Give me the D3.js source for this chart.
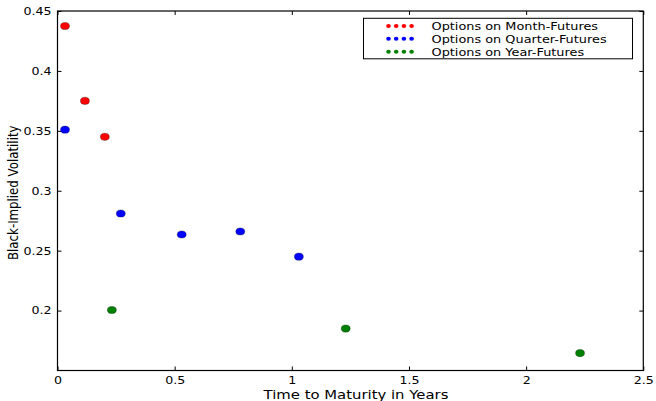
<!DOCTYPE html>
<html>
<head>
<meta charset="utf-8">
<script src="https://cdn.jsdelivr.net/npm/d3@7"></script>
<style>
  body { margin: 0; background: #fff; }
  text { font-family: "DejaVu Sans", sans-serif; }
</style>
</head>
<body>
<div id="chart"></div>
<script>
const width = 656;
const height = 401;
const margin = { top: 11, right: 12.7, bottom: 30.5, left: 57.5 };

// data
const monthT = [0.032, 0.117, 0.202];
const monthV = [0.4375, 0.375, 0.345];
const quarterT = [0.032, 0.27, 0.53, 0.78, 1.03];
const quarterV = [0.351, 0.281, 0.2635, 0.266, 0.245];
const yearT = [0.232, 1.23, 2.23];
const yearV = [0.2005, 0.185, 0.1645];

const xTicks = [0, 0.5, 1, 1.5, 2, 2.5];
const yTicks = [0.2, 0.25, 0.3, 0.35, 0.4, 0.45];

const seriesNames = ['Options on Month-Futures', 'Options on Quarter-Futures', 'Options on Year-Futures'];
const colors = ['#ff0000', '#0000ff', '#008000'];

const series = [
  monthT.map((t, i) => ({ t, v: monthV[i] })),
  quarterT.map((t, i) => ({ t, v: quarterV[i] })),
  yearT.map((t, i) => ({ t, v: yearV[i] }))
];

const x = d3.scaleLinear()
  .domain([0, 2.5])
  .range([margin.left, width - margin.right]);

const y = d3.scaleLinear()
  .domain([0.15, 0.45])
  .range([height - margin.bottom, margin.top]);

const svg = d3.select('#chart').append('svg')
  .attr('width', width)
  .attr('height', height);

const fmt = d => String(+d.toFixed(2));

// the reference is a bit wider than tall, so widen the glyphs
function stretch(sel, k) {
  sel.each(function() {
    const w = this.getComputedTextLength();
    d3.select(this)
      .attr('textLength', w * k)
      .attr('lengthAdjust', 'spacingAndGlyphs');
  });
}

// bottom axis, ticks pointing inward
svg.append('g')
  .attr('transform', `translate(0,${height - margin.bottom})`)
  .call(d3.axisBottom(x).tickValues(xTicks).tickSize(-4).tickPadding(6).tickFormat(fmt))
  .call(g => g.select('.domain').remove())
  .call(g => g.selectAll('text').attr('font-size', 10.5).attr('fill', '#000').call(stretch, 1.2));

// top axis (ticks only)
svg.append('g')
  .attr('transform', `translate(0,${margin.top})`)
  .call(d3.axisTop(x).tickValues(xTicks).tickSize(-4).tickFormat(''))
  .call(g => g.select('.domain').remove());

svg.append('g')
  .attr('transform', `translate(${margin.left},0)`)
  .call(d3.axisLeft(y).tickValues(yTicks).tickSize(-4).tickPadding(6).tickFormat(fmt))
  .call(g => g.select('.domain').remove())
  .call(g => g.selectAll('text').attr('font-size', 10.5).attr('fill', '#000').call(stretch, 1.2));

svg.append('g')
  .attr('transform', `translate(${width - margin.right},0)`)
  .call(d3.axisRight(y).tickValues(yTicks).tickSize(-4).tickFormat(''))
  .call(g => g.select('.domain').remove());

// frame
svg.append('rect')
  .attr('x', margin.left)
  .attr('y', margin.top)
  .attr('width', width - margin.left - margin.right)
  .attr('height', height - margin.top - margin.bottom)
  .attr('fill', 'none')
  .attr('stroke', '#000')
  .attr('stroke-width', 1.2);

series.forEach((pts, k) => {
  svg.append('g')
    .selectAll('ellipse')
    .data(pts)
    .enter()
    .append('ellipse')
    .attr('cx', d => x(d.t))
    .attr('cy', d => y(d.v))
    .attr('rx', 4.5)
    .attr('ry', 3.6)
    .attr('fill', colors[k])
    .attr('stroke', '#000')
    .attr('stroke-opacity', 0.5)
    .attr('stroke-width', 0.6);
});

// axis labels
svg.append('text')
  .attr('x', 356)
  .attr('y', 399)
  .attr('text-anchor', 'middle')
  .attr('font-size', 12.7)
  .text('Time to Maturity in Years')
  .call(stretch, 1.17);

svg.append('text')
  .attr('transform', `translate(18,${(margin.top + height - margin.bottom) / 2 + 2}) rotate(-90) scale(1,1.17)`)
  .attr('text-anchor', 'middle')
  .attr('font-size', 11.8)
  .text('Black-Implied Volatility');

// legend
const legend = svg.append('g').attr('transform', 'translate(363.5,18.3)');
legend.append('rect')
  .attr('width', 269)
  .attr('height', 40.5)
  .attr('fill', '#fff')
  .attr('stroke', '#000');

seriesNames.forEach((name, k) => {
  const row = legend.append('g').attr('transform', `translate(0,${7.6 + k * 12.9})`);
  row.selectAll('ellipse')
    .data(d3.range(4))
    .enter()
    .append('ellipse')
    .attr('cx', i => 25 + i * 7.7)
    .attr('cy', 0)
    .attr('rx', 2.3)
    .attr('ry', 2)
    .attr('fill', colors[k]);
  row.append('text')
    .attr('x', 68)
    .attr('y', 4.2)
    .attr('font-size', 11)
    .text(name)
    .call(stretch, 1.17);
});
</script>
</body>
</html>
